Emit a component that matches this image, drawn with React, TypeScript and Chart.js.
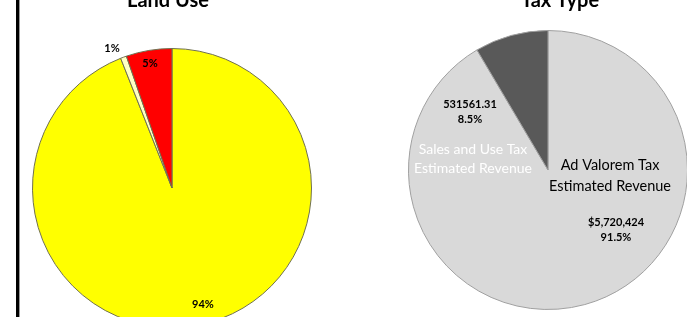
import React, { useEffect, useRef } from "react";
import { Chart, registerables } from "chart.js";

Chart.register(...registerables);

// ---- Land Use data ----
const landCategories = ["Agricultural", "Other", "Residential / Commercial"];
const landValues = [94.0, 0.7, 5.3];
const landPctLabels = ["94%", "1%", "5%"];
const landColors = ["#FFFF00", "#FFFFC4", "#FF0000"];

// ---- Tax Type data ----
const taxCategories = ["Ad Valorem Tax Estimated Revenue", "Sales and Use Tax Estimated Revenue"];
const taxValues = [5720424, 531561.31];
const taxValueLabels = [["$5,720,424", "91.5%"], ["531561.31", "8.5%"]];
const taxColors = ["#D9D9D9", "#595959"];

const FONT = 'Lato, "Open Sans", "DejaVu Sans", sans-serif';

type TextItem = { lines: string[]; dx: number; dy: number; size: number; bold: boolean; color: string; lh: number };

function makeLabelPlugin(id: string, title: string, titleDx: number, titleDy: number, items: TextItem[], extra?: (ctx: CanvasRenderingContext2D) => void) {
  return {
    id,
    afterDraw(chart: any) {
      const ctx: CanvasRenderingContext2D = chart.ctx;
      const arc = chart.getDatasetMeta(0).data[0];
      const cx = arc.x;
      const cy = arc.y;
      ctx.save();
      if (extra) extra(ctx);
      ctx.textAlign = "center";
      ctx.textBaseline = "alphabetic";
      ctx.fillStyle = "#000";
      ctx.font = `bold 20px ${FONT}`;
      ctx.fillText(title, cx + titleDx, cy + titleDy);
      ctx.textBaseline = "middle";
      for (const it of items) {
        ctx.font = `${it.bold ? "bold " : ""}${it.size}px ${FONT}`;
        ctx.fillStyle = it.color;
        it.lines.forEach((ln, i) => {
          ctx.fillText(ln, cx + it.dx, cy + it.dy + i * it.lh);
        });
      }
      ctx.restore();
    },
  };
}

export default function App() {
  const leftRef = useRef<HTMLCanvasElement | null>(null);
  const rightRef = useRef<HTMLCanvasElement | null>(null);

  useEffect(() => {
    const leftItems: TextItem[] = [
      { lines: [landPctLabels[0]], dx: 31, dy: 116, size: 11, bold: true, color: "#000", lh: 12 },
      { lines: [landPctLabels[1]], dx: -60, dy: -140, size: 11, bold: true, color: "#000", lh: 12 },
      { lines: [landPctLabels[2]], dx: -22, dy: -125, size: 11, bold: true, color: "#000", lh: 12 },
    ];
    const rightItems: TextItem[] = [
      { lines: taxValueLabels[0], dx: 68, dy: 52, size: 11, bold: true, color: "#000", lh: 15 },
      { lines: taxValueLabels[1], dx: -78, dy: -66, size: 11, bold: true, color: "#000", lh: 15 },
      { lines: ["Sales and Use Tax", "Estimated Revenue"], dx: -75, dy: -21, size: 14, bold: false, color: "#FFFFFF", lh: 19 },
      { lines: ["Ad Valorem Tax", "Estimated Revenue"], dx: 62, dy: -5, size: 14.5, bold: false, color: "#000", lh: 21 },
    ];

    const left = new Chart(leftRef.current!, {
      type: "pie",
      data: {
        labels: landCategories,
        datasets: [{ data: landValues, backgroundColor: landColors, borderColor: "#707050", borderWidth: 1 }],
      },
      options: {
        responsive: false,
        animation: false,
        events: [],
        layout: { padding: { left: 32, right: 32, top: 48, bottom: 12 } },
        plugins: { legend: { display: false }, tooltip: { enabled: false }, title: { display: false } },
      },
      plugins: [
        makeLabelPlugin("leftLabels", "Land Use", -4, -181, leftItems, (ctx) => {
          ctx.fillStyle = "#000";
          ctx.fillRect(16, 0, 3, 340);
          ctx.fillStyle = "#999";
          ctx.fillRect(19, 0, 1, 340);
        }),
      ],
    } as any);

    const right = new Chart(rightRef.current!, {
      type: "pie",
      data: {
        labels: taxCategories,
        datasets: [{ data: taxValues, backgroundColor: taxColors, borderColor: "#A0A0A0", borderWidth: 1 }],
      },
      options: {
        responsive: false,
        animation: false,
        events: [],
        layout: { padding: { left: 64, right: 2, top: 30, bottom: 7 } },
        plugins: { legend: { display: false }, tooltip: { enabled: false }, title: { display: false } },
      },
      plugins: [makeLabelPlugin("rightLabels", "Tax Type", 12, -163, rightItems)],
    } as any);

    return () => {
      left.destroy();
      right.destroy();
    };
  }, []);

  return (
    <div style={{ position: "fixed", left: 0, top: 0, width: 687, height: 317, overflow: "hidden", background: "#fff" }}>
      <canvas ref={leftRef} width={344} height={340} style={{ position: "absolute", left: 0, top: 0, width: 344, height: 340 }} />
      <canvas ref={rightRef} width={346} height={317} style={{ position: "absolute", left: 344, top: 0, width: 346, height: 317 }} />
    </div>
  );
}
